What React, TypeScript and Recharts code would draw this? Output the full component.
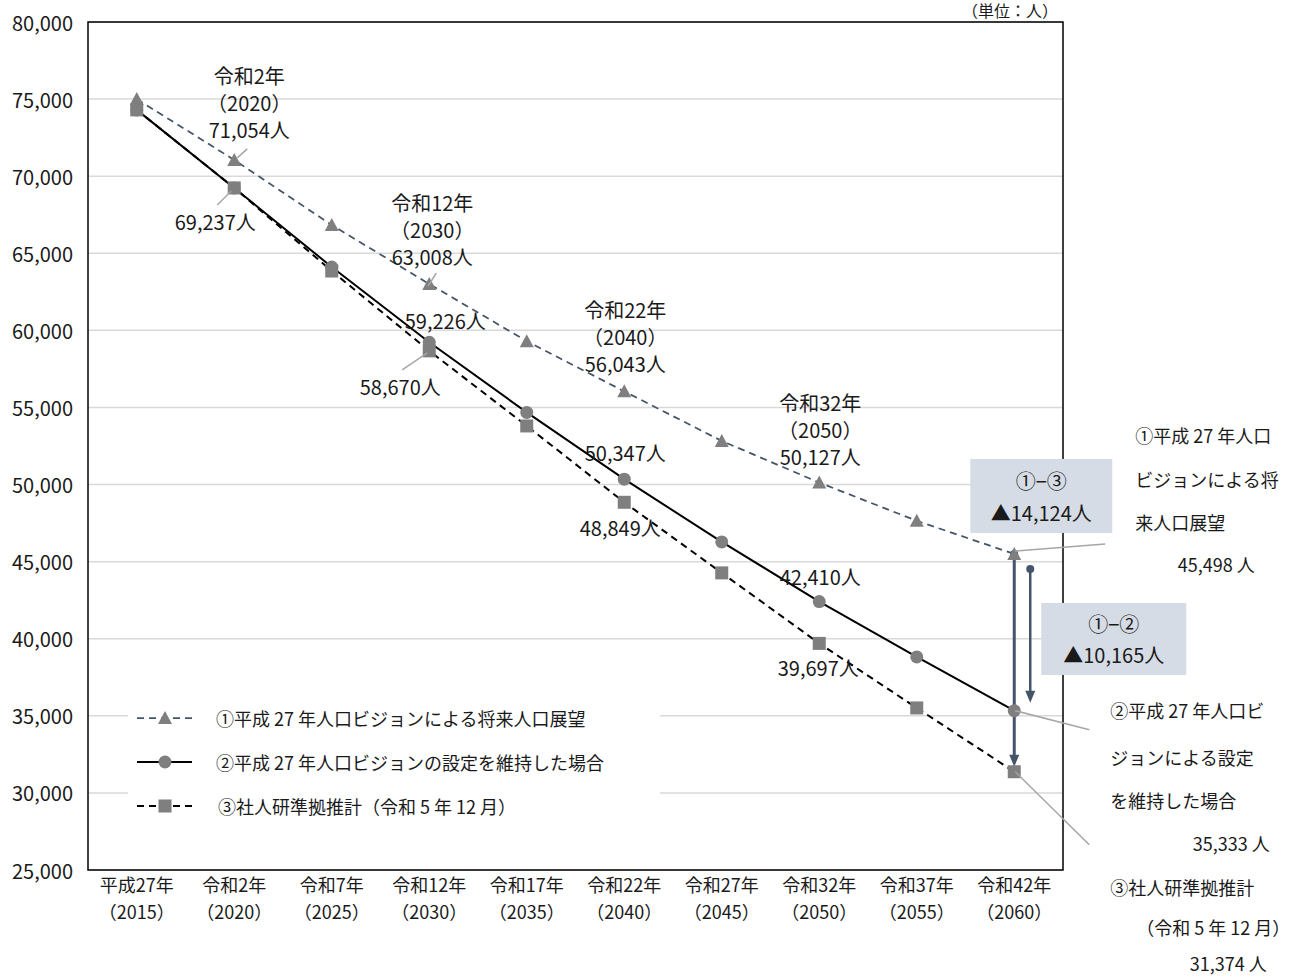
import React from 'react';
import {
  LineChart,
  Line,
  XAxis,
  YAxis,
  CartesianGrid,
  ReferenceArea,
  ReferenceLine,
  LabelList,
  Legend,
} from 'recharts';

// ---- data ----
const eraLabels = ['平成27年', '令和2年', '令和7年', '令和12年', '令和17年', '令和22年', '令和27年', '令和32年', '令和37年', '令和42年'];
const westernYears = ['2015', '2020', '2025', '2030', '2035', '2040', '2045', '2050', '2055', '2060'];

// ① 平成27年人口ビジョンによる将来人口展望
const visionProjection = [75000, 71054, 66830, 63008, 59300, 56043, 52830, 50127, 47650, 45498];
// ② 平成27年人口ビジョンの設定を維持した場合
const visionMaintained = [74300, 69237, 64110, 59226, 54680, 50347, 46280, 42410, 38820, 35333];
// ③ 社人研準拠推計（令和5年12月）
const ipssProjection = [74300, 69237, 63850, 58670, 53800, 48849, 44270, 39697, 35510, 31374];

const yTicks = [25000, 30000, 35000, 40000, 45000, 50000, 55000, 60000, 65000, 70000, 75000, 80000];

const seriesNames = [
  '①平成 27 年人口ビジョンによる将来人口展望',
  '②平成 27 年人口ビジョンの設定を維持した場合',
  '③社人研準拠推計（令和 5 年 12 月）',
];

// wrapped series names for the notes beside the 2060 values
const endNoteLines1 = ['①平成 27 年人口', 'ビジョンによる将', '来人口展望'];
const endNoteLines2 = ['②平成 27 年人口ビ', 'ジョンによる設定', 'を維持した場合'];
const endNoteLines3 = ['③社人研準拠推計', '（令和 5 年 12 月）'];

const unitCaption = '（単位：人）';

const rows = eraLabels.map((era, i) => ({
  idx: i,
  era,
  s1: visionProjection[i],
  s2: visionMaintained[i],
  s3: ipssProjection[i],
}));

// ---- styling ----
const FONT = "'Noto Sans CJK JP', 'Noto Sans', sans-serif";
const TEXT = '#1a1a1a';
const MARKER = '#7f7f7f';
const SLATE = '#44546a';
const LEADER = '#a6a6a6';
const BOX = '#d6dce5';

const fmt = (v: number) => v.toLocaleString('en-US');

// ---- markers ----
const TriDot = (p: any) => {
  const { cx, cy } = p;
  if (cx == null || cy == null) return null;
  return <path d={`M${cx},${cy - 7} L${cx + 7},${cy + 6} L${cx - 7},${cy + 6} Z`} fill={MARKER} />;
};
const CircleDot = (p: any) => {
  const { cx, cy } = p;
  if (cx == null || cy == null) return null;
  return <circle cx={cx} cy={cy} r={6.5} fill={MARKER} />;
};
const SquareDot = (p: any) => {
  const { cx, cy } = p;
  if (cx == null || cy == null) return null;
  return <rect x={cx - 6.5} y={cy - 6.5} width={13} height={13} fill={MARKER} />;
};

// ---- callouts ----
type Piece = [string, number, number, ('start' | 'middle')?];
interface Callout {
  head?: Piece[];
  valueDx: number;
  valueDy: number;
  unitSep?: string;
  size?: number;
  leader?: [number, number, number, number];
}

const eraCallout = (i: number, dx: number, dy: number, leader?: [number, number, number, number]): Callout => ({
  head: [
    [eraLabels[i], dx, dy - 54],
    [`（${westernYears[i]}）`, dx, dy - 27],
  ],
  valueDx: dx,
  valueDy: dy,
  leader,
});

const endCallout = (lines: string[], pos: [number, number][], valueDx: number, valueDy: number, leader: [number, number, number, number]): Callout => ({
  head: lines.map((t, k) => [t, pos[k][0], pos[k][1], 'start'] as Piece),
  valueDx,
  valueDy,
  unitSep: ' ',
  size: 18,
  leader,
});

const s1Callouts: Record<number, Callout> = {
  1: eraCallout(1, 15, -30, [13, -11, 3, -2]),
  3: eraCallout(3, 3, -27, [7, -11, -1, 2]),
  5: eraCallout(5, 1, -28),
  7: eraCallout(7, 1, -26),
  9: endCallout(endNoteLines1, [[121, -119], [121, -75], [121, -32]], 202, 10, [1, -3, 91, -10]),
};
const s2Callouts: Record<number, Callout> = {
  3: { valueDx: 16, valueDy: -22 },
  5: { valueDx: 1, valueDy: -27 },
  7: { valueDx: 1, valueDy: -25 },
  9: endCallout(endNoteLines2, [[96, -1], [96, 46], [96, 89]], 217, 132, [1, 0, 75, 19]),
};
const s3Callouts: Record<number, Callout> = {
  1: { valueDx: -19, valueDy: 34, leader: [-17, 17, -3, 3] },
  3: { valueDx: -29, valueDy: 36, leader: [-27, 19, -2, 2] },
  5: { valueDx: -4, valueDy: 25 },
  7: { valueDx: -1, valueDy: 24 },
  9: endCallout(endNoteLines3, [[96, 115], [122, 155]], 214, 191, [1, 0, 75, 73]),
};

const makeLabel = (callouts: Record<number, Callout>) => (props: any) => {
  const { x, y, value, index } = props;
  const c = callouts[index];
  if (!c || x == null || y == null) return null;
  const size = c.size ?? 20;
  return (
    <g>
      {c.leader && (
        <line
          x1={x + c.leader[0]}
          y1={y + c.leader[1]}
          x2={x + c.leader[2]}
          y2={y + c.leader[3]}
          stroke={LEADER}
          strokeWidth={1.5}
        />
      )}
      {(c.head ?? []).map(([t, dx, dy, anchor], k) => (
        <text key={k} x={x + dx} y={y + dy} textAnchor={anchor ?? 'middle'} dominantBaseline="central" fontSize={size} fill={TEXT}>
          {t}
        </text>
      ))}
      <text x={x + c.valueDx} y={y + c.valueDy} textAnchor="middle" dominantBaseline="central" fontSize={size} fill={TEXT}>
        {`${fmt(Number(value))}${c.unitSep ?? ''}人`}
      </text>
    </g>
  );
};

// ---- gap arrows with their boxes ----
const arrowHead = (x: number, tipY: number) => (
  <path d={`M${x},${tipY} L${x - 5},${tipY - 12} L${x + 5},${tipY - 12} Z`} fill={SLATE} />
);

const GapBox = ({ x, y, w, h, top, bottom }: { x: number; y: number; w: number; h: number; top: string; bottom: string }) => (
  <g>
    <rect x={x} y={y} width={w} height={h} fill={BOX} />
    <text x={x + w / 2} y={y + h * 0.29} textAnchor="middle" dominantBaseline="central" fontSize={20} fill={TEXT}>{top}</text>
    <text x={x + w / 2} y={y + h * 0.72} textAnchor="middle" dominantBaseline="central" fontSize={20} fill={TEXT}>{bottom}</text>
  </g>
);

const gap13 = visionProjection[9] - ipssProjection[9];
const gap12 = visionProjection[9] - visionMaintained[9];

const ArrowToIpss = (p: any) => {
  const { x1, y1, y2 } = p;
  if (x1 == null) return null;
  const tip = y2 - 5;
  return (
    <g>
      <line x1={x1} y1={y1} x2={x1} y2={tip - 10} stroke={SLATE} strokeWidth={3} />
      <circle cx={x1} cy={y1} r={4} fill={SLATE} />
      {arrowHead(x1, tip)}
      <GapBox x={x1 - 44} y={y1 - 95} w={142} h={74} top="①−③" bottom={`▲${fmt(gap13)}人`} />
    </g>
  );
};

const ArrowToMaintained = (p: any) => {
  const { x1, y1, y2 } = p;
  if (x1 == null) return null;
  const x = x1 + 16;
  const start = y1 + 15;
  const tip = y2 - 8;
  return (
    <g>
      <line x1={x} y1={start} x2={x} y2={tip - 10} stroke={SLATE} strokeWidth={2.5} />
      <circle cx={x} cy={start} r={4} fill={SLATE} />
      {arrowHead(x, tip)}
      <GapBox x={x1 + 27} y={y1 + 49} w={145} h={72} top="①−②" bottom={`▲${fmt(gap12)}人`} />
    </g>
  );
};

// ---- axis ticks ----
const EraTick = (p: any) => {
  const { x, y, payload } = p;
  const i = payload.value as number;
  return (
    <g>
      <text x={x} y={y + 14} textAnchor="middle" dominantBaseline="central" fontSize={18} fill={TEXT}>{eraLabels[i]}</text>
      <text x={x} y={y + 41} textAnchor="middle" dominantBaseline="central" fontSize={18} fill={TEXT}>{`（${westernYears[i]}）`}</text>
    </g>
  );
};

const ValueTick = (p: any) => {
  const { x, y, payload, index } = p;
  return (
    <g>
      <text x={x} y={y} textAnchor="end" dominantBaseline="central" fontSize={20} fill={TEXT}>
        {fmt(payload.value)}
      </text>
      {/* unit caption sits above the plot's top-right corner, drawn once with the top tick */}
      {index === yTicks.length - 1 && (
        <text x={1058} y={10} textAnchor="end" dominantBaseline="central" fontSize={16} fill={TEXT}>
          {unitCaption}
        </text>
      )}
    </g>
  );
};

// ---- legend ----
const LegendSymbol = ({ k }: { k: number }) => {
  const cy = 18;
  const cx = 37;
  return (
    <svg width={88} height={36} style={{ display: 'block', flex: 'none' }}>
      {k === 0 && <line x1={9} y1={cy} x2={64} y2={cy} stroke={SLATE} strokeWidth={1.75} strokeDasharray="7 5" />}
      {k === 1 && <line x1={9} y1={cy} x2={64} y2={cy} stroke="#000" strokeWidth={2} />}
      {k === 2 && <line x1={9} y1={cy} x2={64} y2={cy} stroke="#000" strokeWidth={2} strokeDasharray="7 5" />}
      {k === 0 && <TriDot cx={cx} cy={cy} />}
      {k === 1 && <CircleDot cx={cx} cy={cy} />}
      {k === 2 && <SquareDot cx={cx} cy={cy} />}
    </svg>
  );
};

const LegendBox = () => (
  <div style={{ position: 'relative', width: 532, height: 136, background: '#fff', fontFamily: FONT, fontSize: 18, color: TEXT }}>
    {seriesNames.map((name, k) => (
      <div key={k} style={{ position: 'absolute', left: 0, top: 8 + k * 44, height: 36, display: 'flex', alignItems: 'center', whiteSpace: 'nowrap' }}>
        <LegendSymbol k={k} />
        <span style={{ marginLeft: k === 2 ? 2 : 0 }}>{name}</span>
      </div>
    ))}
  </div>
);

export default function App() {
  return (
    <div style={{ position: 'absolute', left: 0, top: 0, width: 1296, height: 978, background: '#fff', fontFamily: FONT }}>
      <LineChart
        width={1296}
        height={978}
        data={rows}
        margin={{ top: 22, right: 233, bottom: 48, left: 0 }}
        style={{ fontFamily: FONT, overflow: 'visible' }}
      >
        <CartesianGrid horizontal vertical={false} stroke="#d9d9d9" strokeWidth={1.5} />
        <XAxis
          dataKey="idx"
          type="number"
          domain={[-0.5, 9.5]}
          ticks={eraLabels.map((_, i) => i)}
          interval={0}
          tick={<EraTick />}
          tickLine={false}
          axisLine={false}
          tickSize={0}
          tickMargin={0}
          height={60}
        />
        <YAxis
          type="number"
          domain={[25000, 80000]}
          ticks={yTicks}
          interval={0}
          tick={<ValueTick />}
          tickLine={false}
          axisLine={false}
          tickSize={0}
          tickMargin={15}
          width={88}
        />
        <ReferenceArea
          x1={-0.5}
          x2={9.5}
          y1={25000}
          y2={80000}
          fill="none"
          fillOpacity={0}
          stroke="#000"
          strokeWidth={1.5}
          ifOverflow="visible"
        />
        <Legend
          layout="horizontal"
          verticalAlign="middle"
          align="center"
          wrapperStyle={{ position: 'absolute', left: 128, top: 692, width: 532, height: 136 }}
          content={() => <LegendBox />}
        />
        <Line
          dataKey="s1"
          name={seriesNames[0]}
          stroke={SLATE}
          strokeWidth={1.75}
          strokeDasharray="7 5"
          dot={(p: any) => <TriDot key={`t${p.index}`} {...p} />}
          activeDot={false}
          isAnimationActive={false}
        >
          <LabelList dataKey="s1" content={makeLabel(s1Callouts)} />
        </Line>
        <Line
          dataKey="s2"
          name={seriesNames[1]}
          stroke="#000"
          strokeWidth={2}
          dot={(p: any) => <CircleDot key={`c${p.index}`} {...p} />}
          activeDot={false}
          isAnimationActive={false}
        >
          <LabelList dataKey="s2" content={makeLabel(s2Callouts)} />
        </Line>
        <Line
          dataKey="s3"
          name={seriesNames[2]}
          stroke="#000"
          strokeWidth={2}
          strokeDasharray="7 5"
          dot={(p: any) => <SquareDot key={`s${p.index}`} {...p} />}
          activeDot={false}
          isAnimationActive={false}
        >
          <LabelList dataKey="s3" content={makeLabel(s3Callouts)} />
        </Line>
        <ReferenceLine
          segment={[{ x: 9, y: visionProjection[9] }, { x: 9, y: ipssProjection[9] }]}
          stroke={SLATE}
          ifOverflow="visible"
          shape={(p: any) => <ArrowToIpss {...p} />}
        />
        <ReferenceLine
          segment={[{ x: 9, y: visionProjection[9] }, { x: 9, y: visionMaintained[9] }]}
          stroke={SLATE}
          ifOverflow="visible"
          shape={(p: any) => <ArrowToMaintained {...p} />}
        />
      </LineChart>
    </div>
  );
}
